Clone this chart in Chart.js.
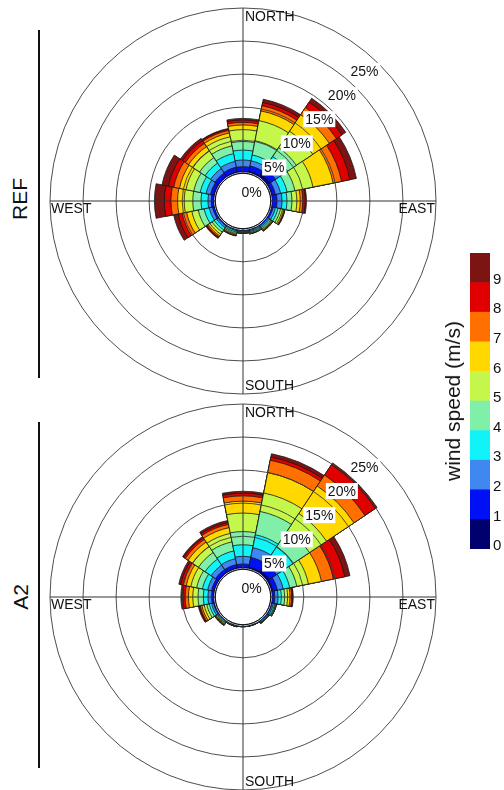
<!DOCTYPE html>
<html>
<head>
<meta charset="utf-8">
<script src="https://cdn.jsdelivr.net/npm/chart.js@4.4.0/dist/chart.umd.min.js"></script>
<style>
  body { margin: 0; background: #fff; font-family: "Liberation Sans", Arial, sans-serif; }
  #page { position: relative; width: 504px; height: 790px; overflow: hidden; }
  canvas { position: absolute; }
  .side { position: absolute; font-size: 21px; color: #111; white-space: nowrap;
          transform: translate(-50%, -50%) rotate(-90deg); }
  .rule { position: absolute; left: 38px; width: 2px; background: #111; }
</style>
</head>
<body>
<div id="page">
  <div class="rule" style="top:30px;height:348px"></div>
  <div class="side" style="left:20px;top:199px">REF</div>
  <div class="rule" style="top:422px;height:346px"></div>
  <div class="side" style="left:21px;top:597px">A2</div>
  <canvas id="roseRef" width="400" height="400" style="left:43px;top:1px"></canvas>
  <canvas id="roseA2" width="400" height="400" style="left:43px;top:397px"></canvas>
  <canvas id="colorbar" width="34" height="320" style="left:470px;top:241px"></canvas>
  <div class="side" style="left:453px;top:401px">wind speed (m/s)</div>
</div>
<script>
// wind directions, sectors centred on each one
const directions = ['N', 'NNE', 'NE', 'ENE', 'E', 'ESE', 'SE', 'SSE', 'S', 'SSW', 'SW', 'WSW', 'W', 'WNW', 'NW', 'NNW'];
const speedBins = ['0-1', '1-2', '2-3', '3-4', '4-5', '5-6', '6-7', '7-8', '8-9', '9-10'];
const speedColors = ['#00006e', '#0010f5', '#3f88f2', '#10f4f8', '#80f0a8', '#c4f74a', '#ffd800', '#ff7000', '#e00000', '#7d1414'];
const colorbarCells = [1, 1, 1, 1, 1, 1, 1, 1, 1, 1];
const colorbarTicks = [0, 1, 2, 3, 4, 5, 6, 7, 8, 9];
const ringValues = [0, 5, 10, 15, 20, 25];
const ringLabels = ['0%', '5%', '10%', '15%', '20%', '25%'];
const compassLabels = ['NORTH', 'EAST', 'SOUTH', 'WEST'];

// REF: frequency (%) per direction for each speed bin
const ref0_1  = [0.3, 0.4, 0.7, 0.3, 0.2, 0.15, 0.1, 0.1, 0.1, 0.1, 0.15, 0.2, 0.2, 0.3, 0.3, 0.3];
const ref1_2  = [0.7, 0.8, 1.0, 0.5, 0.75, 0.3, 0.2, 0.15, 0.15, 0.15, 0.2, 0.3, 0.4, 0.5, 0.6, 0.7];
const ref2_3  = [1.0, 0.8, 1.0, 0.8, 0.75, 0.35, 0.2, 0.15, 0.1, 0.15, 0.3, 0.5, 0.5, 0.7, 0.8, 0.9];
const ref3_4  = [1.5, 0.9, 1.2, 1.0, 0.75, 0.4, 0.2, 0.15, 0.1, 0.2, 0.4, 0.8, 1.05, 0.9, 1.0, 1.2];
const ref4_5  = [1.3, 2.2, 1.6, 1.2, 0.75, 0.4, 0.2, 0.15, 0.1, 0.2, 0.4, 0.9, 1.25, 1.0, 1.0, 1.2];
const ref5_6  = [1.8, 3.1, 3.0, 2.8, 0.75, 0.3, 0.15, 0.1, 0.05, 0.15, 0.4, 1.0, 1.3, 1.2, 1.2, 1.4];
const ref6_7  = [0.7, 1.5, 3.0, 3.1, 0.5, 0.2, 0.1, 0.05, 0.04, 0.1, 0.3, 0.8, 1.0, 1.0, 0.8, 0.6];
const ref7_8  = [0.4, 0.8, 1.3, 1.3, 0.4, 0.1, 0.08, 0.03, 0.03, 0.08, 0.2, 0.7, 1.0, 0.9, 0.6, 0.4];
const ref8_9  = [0.35, 0.5, 1.0, 1.3, 0.35, 0.07, 0.05, 0.01, 0.02, 0.04, 0.15, 0.6, 1.0, 0.8, 0.5, 0.2];
const ref9_10 = [0.25, 0.5, 0.7, 1.0, 0.2, 0.03, 0.02, 0.01, 0.01, 0.03, 0.1, 0.7, 1.5, 1.0, 0.4, 0.1];

// A2
const a2_0_1  = [0.3, 0.4, 0.6, 0.4, 0.2, 0.1, 0.1, 0.08, 0.08, 0.08, 0.1, 0.15, 0.2, 0.25, 0.3, 0.3];
const a2_1_2  = [0.5, 1.5, 1.3, 0.7, 0.4, 0.2, 0.15, 0.1, 0.1, 0.1, 0.12, 0.2, 0.35, 0.4, 0.5, 0.5];
const a2_2_3  = [1.15, 1.5, 1.0, 0.9, 0.5, 0.2, 0.12, 0.05, 0.05, 0.07, 0.13, 0.3, 0.55, 0.6, 0.8, 0.9];
const a2_3_4  = [1.75, 2.0, 2.0, 1.0, 0.5, 0.2, 0.1, 0.03, 0.03, 0.05, 0.13, 0.35, 0.7, 0.8, 1.1, 1.2];
const a2_4_5  = [2.0, 3.6, 3.0, 1.1, 0.5, 0.12, 0.06, 0.02, 0.02, 0.04, 0.13, 0.4, 0.8, 0.9, 1.2, 1.4];
const a2_5_6  = [2.8, 2.85, 3.1, 1.8, 0.45, 0.08, 0.04, 0.01, 0.01, 0.03, 0.12, 0.4, 0.8, 0.9, 1.1, 1.3];
const a2_6_7  = [1.8, 3.15, 5.0, 2.0, 0.35, 0.05, 0.02, 0.01, 0.01, 0.02, 0.1, 0.35, 0.65, 0.7, 0.8, 0.9];
const a2_7_8  = [0.8, 1.9, 2.0, 1.85, 0.25, 0.03, 0.01, 0, 0, 0.01, 0.07, 0.25, 0.5, 0.5, 0.5, 0.5];
const a2_8_9  = [0.4, 0.5, 1.9, 1.75, 0.15, 0.01, 0, 0, 0, 0, 0.05, 0.15, 0.35, 0.35, 0.3, 0.3];
const a2_9_10 = [0.3, 0.5, 0.3, 0.8, 0.1, 0.01, 0, 0, 0, 0, 0.05, 0.15, 0.3, 0.3, 0.2, 0.3];

const fontFamily = '"Liberation Sans", Arial, sans-serif';

// running totals so the wedges can be layered (largest drawn first)
function cumulative(bins) {
    let run = directions.map(() => 0);
    return bins.map(b => (run = run.map((v, i) => v + b[i])));
}

// compass cross, direction names and % labels
const roseDecor = {
    id: 'roseDecor',
    afterDraw(chart) {
        const r = chart.scales.r;
        const ctx = chart.ctx;
        const cx = r.xCenter, cy = r.yCenter, R = r.drawingArea;
        const r0 = r.getDistanceFromCenterForValue(0);
        ctx.save();
        ctx.strokeStyle = '#333';
        ctx.lineWidth = 1;
        ctx.beginPath();
        [[0, -1], [1, 0], [0, 1], [-1, 0]].forEach(([dx, dy]) => {
            ctx.moveTo(cx + dx * r0, cy + dy * r0);
            ctx.lineTo(cx + dx * R, cy + dy * R);
        });
        ctx.stroke();
        ctx.strokeStyle = '#111';
        ctx.beginPath();
        ctx.arc(cx, cy, r0, 0, Math.PI * 2);
        ctx.stroke();

        ctx.font = '14px ' + fontFamily;
        ctx.fillStyle = '#111';
        ctx.textBaseline = 'middle';
        ctx.textAlign = 'left';
        ctx.fillText(compassLabels[0], cx + 2, cy - R + 9.5);
        ctx.fillText(compassLabels[2], cx + 2, cy + R - 7.5);
        ctx.fillText(compassLabels[3], cx - R + 1, cy + 8.5);
        ctx.textAlign = 'right';
        ctx.fillText(compassLabels[1], cx + R - 1, cy + 8.5);

        const ang = 43 * Math.PI / 180;
        ctx.textAlign = 'center';
        ringValues.forEach((v, i) => {
            const d = r.getDistanceFromCenterForValue(v) - 15;
            const x = cx + d * Math.sin(ang);
            const y = cy - d * Math.cos(ang);
            const w = ctx.measureText(ringLabels[i]).width;
            if (v > 0) {
                ctx.fillStyle = '#fff';
                ctx.fillRect(x - w / 2 - 2, y - 8, w + 4, 16);
            }
            ctx.fillStyle = '#111';
            ctx.fillText(ringLabels[i], x, y + 1);
        });
        ctx.restore();
    }
};

function makeRose(id, bins) {
    const cum = cumulative(bins);
    const datasets = [{
        label: 'calm',
        data: directions.map(() => 0),
        backgroundColor: '#ffffff',
        borderColor: '#ffffff',
        borderWidth: 2
    }].concat(cum.map((d, k) => ({
        label: speedBins[k] + ' m/s',
        data: d,
        backgroundColor: speedColors[k],
        borderColor: '#151515',
        borderWidth: 0.8
    })));

    return new Chart(document.getElementById(id), {
        type: 'polarArea',
        data: { labels: directions, datasets: datasets },
        options: {
            responsive: false,
            animation: false,
            events: [],
            layout: { padding: 7 },
            plugins: { legend: { display: false }, tooltip: { enabled: false } },
            scales: {
                r: {
                    min: -4.2,
                    max: 25,
                    beginAtZero: false,
                    startAngle: -11.25,
                    afterBuildTicks: s => { s.ticks = ringValues.map(v => ({ value: v })); },
                    ticks: { display: false, z: 1 },
                    grid: { circular: true, color: '#3a3a3a', lineWidth: 0.9, z: 1 },
                    angleLines: { display: false },
                    pointLabels: { display: false }
                }
            }
        },
        plugins: [roseDecor]
    });
}

makeRose('roseRef', [ref0_1, ref1_2, ref2_3, ref3_4, ref4_5, ref5_6, ref6_7, ref7_8, ref8_9, ref9_10]);
makeRose('roseA2', [a2_0_1, a2_1_2, a2_2_3, a2_3_4, a2_4_5, a2_5_6, a2_6_7, a2_7_8, a2_8_9, a2_9_10]);

// colour bar
new Chart(document.getElementById('colorbar'), {
    type: 'bar',
    data: {
        labels: [''],
        datasets: speedColors.map((c, i) => ({
            label: speedBins[i],
            data: [colorbarCells[i]],
            backgroundColor: c,
            borderWidth: 0,
            barPercentage: 1,
            categoryPercentage: 1
        }))
    },
    options: {
        responsive: false,
        animation: false,
        events: [],
        layout: { padding: { top: 10, bottom: 10, left: 0, right: 0 } },
        plugins: { legend: { display: false }, tooltip: { enabled: false } },
        scales: {
            x: { display: false, stacked: true },
            y: {
                stacked: true,
                min: 0,
                max: 10,
                position: 'right',
                grid: { display: false, drawTicks: false },
                border: { display: false },
                afterFit: s => { s.width = 14; },
                afterBuildTicks: s => { s.ticks = colorbarTicks.map(v => ({ value: v })); },
                ticks: { color: '#111', padding: 3, labelOffset: -3, font: { size: 15, family: fontFamily } }
            }
        }
    }
});
</script>
</body>
</html>
